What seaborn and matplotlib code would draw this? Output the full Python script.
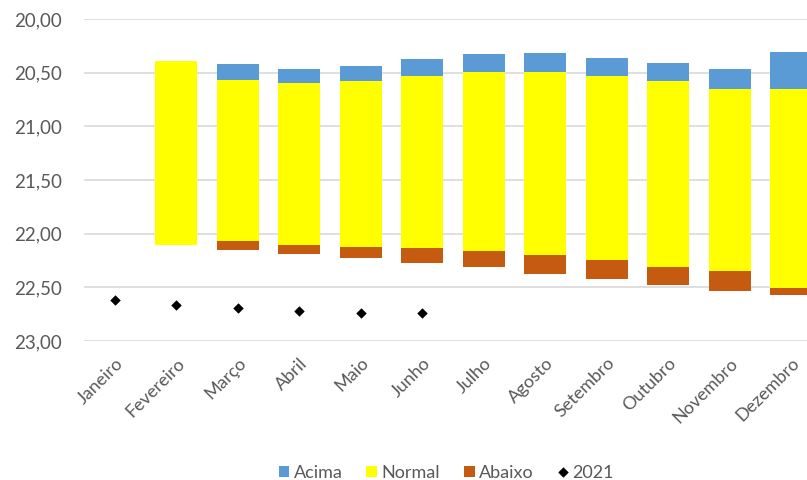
import numpy as np
import pandas as pd
import seaborn as sns
import matplotlib.pyplot as plt
from matplotlib.ticker import FuncFormatter

# Meses (eixo x)
meses = ['Janeiro', 'Fevereiro', 'Março', 'Abril', 'Maio', 'Junho',
         'Julho', 'Agosto', 'Setembro', 'Outubro', 'Novembro', 'Dezembro']

# Limites das faixas (eixo invertido: valor menor fica em cima)
acima_topo = [np.nan, 20.39, 20.42, 20.465, 20.44, 20.37, 20.33, 20.315, 20.36, 20.41, 20.465, 20.305]
normal_topo = [np.nan, 20.39, 20.57, 20.60, 20.58, 20.53, 20.49, 20.49, 20.53, 20.58, 20.65, 20.65]
normal_base = [np.nan, 22.11, 22.065, 22.11, 22.12, 22.135, 22.16, 22.20, 22.245, 22.31, 22.345, 22.505]
abaixo_base = [np.nan, 22.11, 22.15, 22.19, 22.225, 22.27, 22.31, 22.38, 22.42, 22.48, 22.535, 22.57]

# Serie 2021 (so ate junho)
meses_2021 = meses[:6]
nivel_2021 = [22.62, 22.66, 22.69, 22.72, 22.74, 22.74]

sns.set_style('white')
plt.rcParams['font.family'] = ['Lato', 'DejaVu Sans']

df = pd.DataFrame({'mes': meses,
                   'acima_topo': acima_topo, 'normal_topo': normal_topo,
                   'normal_base': normal_base, 'abaixo_base': abaixo_base})
df['acima'] = df['normal_topo'] - df['acima_topo']
df['normal'] = df['normal_base'] - df['normal_topo']
df['abaixo'] = df['abaixo_base'] - df['normal_base']
df = df.fillna(0)

fig = plt.figure(figsize=(8.07, 4.8), dpi=100)
ax = fig.add_axes([0.104, 0.2896, 0.9145, 0.6708])

# Faixas empilhadas (comeca no topo de cada faixa)
faixas = [('acima', 'acima_topo', 'Acima', '#5B9BD5'),
          ('normal', 'normal_topo', 'Normal', '#FFFF00'),
          ('abaixo', 'normal_base', 'Abaixo', '#C55A11')]
for col, base, nome, cor in faixas:
    sns.barplot(data=df, x='mes', y=col, order=meses, bottom=df[base].values,
                color=cor, saturation=1, width=0.68, linewidth=0,
                errorbar=None, label=nome, ax=ax)

sns.pointplot(x=meses_2021, y=nivel_2021, order=meses, color='black',
              marker='D', linestyle='none', markersize=3.3, errorbar=None,
              label='2021', ax=ax)
if ax.get_legend() is not None:
    ax.get_legend().remove()

ax.set_xlim(-0.5, 11.5)
ax.set_ylim(23, 20)
ax.set_yticks(np.arange(20, 23.01, 0.5))
ax.yaxis.set_major_formatter(FuncFormatter(lambda v, p: f'{v:.2f}'.replace('.', ',')))
ax.set_xlabel('')
ax.set_ylabel('')
ax.yaxis.grid(True, color='#D9D9D9', linewidth=1.2)
ax.set_axisbelow(True)
for s in ax.spines.values():
    s.set_visible(False)

ax.tick_params(axis='y', length=0, pad=16, labelsize=13.5, labelcolor='#595959')
ax.tick_params(axis='x', length=0, pad=10, labelsize=13, labelcolor='#595959')
for lbl in ax.get_xticklabels():
    lbl.set_rotation(45)
    lbl.set_ha('right')
    lbl.set_rotation_mode('anchor')

handles, labels = ax.get_legend_handles_labels()
ordem = ['Acima', 'Normal', 'Abaixo', '2021']
pares = dict(zip(labels, handles))
leg = fig.legend([pares[n] for n in ordem], ordem, loc='center',
                 bbox_to_anchor=(0.553, 0.015), ncol=4, frameon=False,
                 fontsize=13, handlelength=0.6, handleheight=0.6,
                 handletextpad=0.25, columnspacing=1.3)
for t in leg.get_texts():
    t.set_color('#595959')

fig.savefig('out.png', dpi=100)
